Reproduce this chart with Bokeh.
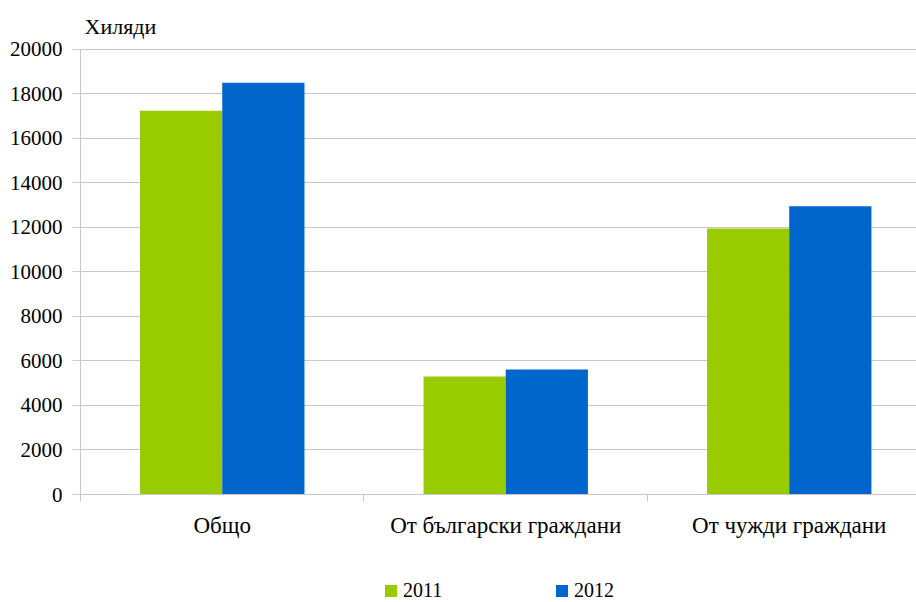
import numpy as np
from bokeh.plotting import figure
from bokeh.layouts import column
from bokeh.models import Range1d, FixedTicker, Legend, LegendItem, ColumnDataSource, Label
from bokeh.embed import file_html
from bokeh.resources import INLINE

categories = ["Общо", "От български граждани", "От чужди граждани"]
series_names = ["2011", "2012"]
values_2011 = [17250, 5300, 11950]
values_2012 = [18500, 5620, 12950]
y_ticks = list(range(0, 20001, 2000))
unit_label = "Хиляди"

GREEN = "#99CC00"
BLUE = "#0066CC"
GRID = "#c8c8c8"
FONT = "'Liberation Serif'"

Y_AXIS_MAX = 20000
Y_VIEW_MAX = 22200   # headroom above the axis so the unit label sits inside the frame

x_range = Range1d(0, 2.949)

p = figure(width=916, height=572, output_backend="svg", toolbar_location=None,
           x_range=x_range, y_range=Range1d(0, Y_VIEW_MAX),
           min_border_left=80, min_border_right=0, min_border_top=0, min_border_bottom=78)
p.outline_line_color = None
p.background_fill_color = "white"
p.border_fill_color = "white"

centers = np.arange(len(categories)) + 0.5
bw = 0.29
src1 = ColumnDataSource(dict(x=centers - 0.145, top=values_2011))
src2 = ColumnDataSource(dict(x=centers + 0.145, top=values_2012))
r1 = p.vbar(x="x", top="top", width=bw, source=src1, fill_color=GREEN, line_color=None)
r2 = p.vbar(x="x", top="top", width=bw, source=src2, fill_color=BLUE, line_color=None)

# unit label above the axis top
p.add_layout(Label(x=0, y=Y_AXIS_MAX, x_offset=4, y_offset=23, text=unit_label,
                   text_font=FONT, text_font_size="22px", text_color="black",
                   text_baseline="alphabetic", text_align="left"))

# y axis
p.yaxis.ticker = FixedTicker(ticks=y_ticks)
p.yaxis.bounds = (0, Y_AXIS_MAX)
p.yaxis.minor_tick_line_color = None
p.yaxis.major_tick_out = 8
p.yaxis.major_tick_in = 0
p.yaxis.major_label_standoff = 10
p.yaxis.axis_line_color = GRID
p.yaxis.major_tick_line_color = GRID
p.yaxis.major_label_text_font = FONT
p.yaxis.major_label_text_font_size = "21px"
p.yaxis.major_label_text_color = "black"

# x axis: labels at category centres, ticks at boundaries (minor)
p.xaxis.ticker = FixedTicker(ticks=list(centers), minor_ticks=list(range(len(categories) + 1)))
p.xaxis.major_label_overrides = {float(c): name for c, name in zip(centers, categories)}
p.xaxis.major_tick_line_color = None
p.xaxis.major_tick_out = 0
p.xaxis.major_tick_in = 0
p.xaxis.minor_tick_out = 7
p.xaxis.minor_tick_in = 0
p.xaxis.minor_tick_line_color = GRID
p.xaxis.axis_line_color = GRID
p.xaxis.major_label_standoff = 11
p.xaxis.major_label_text_font = FONT
p.xaxis.major_label_text_font_size = "23px"
p.xaxis.major_label_text_color = "black"

p.xgrid.grid_line_color = None
p.ygrid.ticker = FixedTicker(ticks=y_ticks)
p.ygrid.grid_line_color = GRID
p.ygrid.grid_line_width = 1

# legend strip (frame aligned with the main plot's frame)
pl = figure(width=916, height=30, output_backend="svg", toolbar_location=None,
            x_range=x_range, y_range=Range1d(0, Y_AXIS_MAX),
            x_axis_type=None, y_axis_type=None,
            min_border_left=0, min_border_right=0, min_border_top=0, min_border_bottom=0)
pl.outline_line_color = None
pl.grid.grid_line_color = None
pl.background_fill_color = "white"
pl.border_fill_color = "white"
l1 = pl.vbar(x="x", top="top", width=bw, source=src1, fill_color=GREEN,
             line_color=None, visible=False)
l2 = pl.vbar(x="x", top="top", width=bw, source=src2, fill_color=BLUE,
             line_color=None, visible=False)
legend = Legend(items=[LegendItem(label=series_names[0], renderers=[l1]),
                       LegendItem(label=series_names[1], renderers=[l2])],
                orientation="horizontal", location=(303, 0),
                glyph_width=15, glyph_height=15, label_standoff=5, label_width=151,
                label_height=15, spacing=0, padding=0, margin=0, border_line_color=None,
                background_fill_alpha=0, label_text_font=FONT,
                label_text_font_size="20px", label_text_line_height=0.75,
                label_text_color="black")
pl.add_layout(legend, "center")

layout = column(p, pl, spacing=0)
open("out.html", "w").write(file_html(layout, INLINE))
